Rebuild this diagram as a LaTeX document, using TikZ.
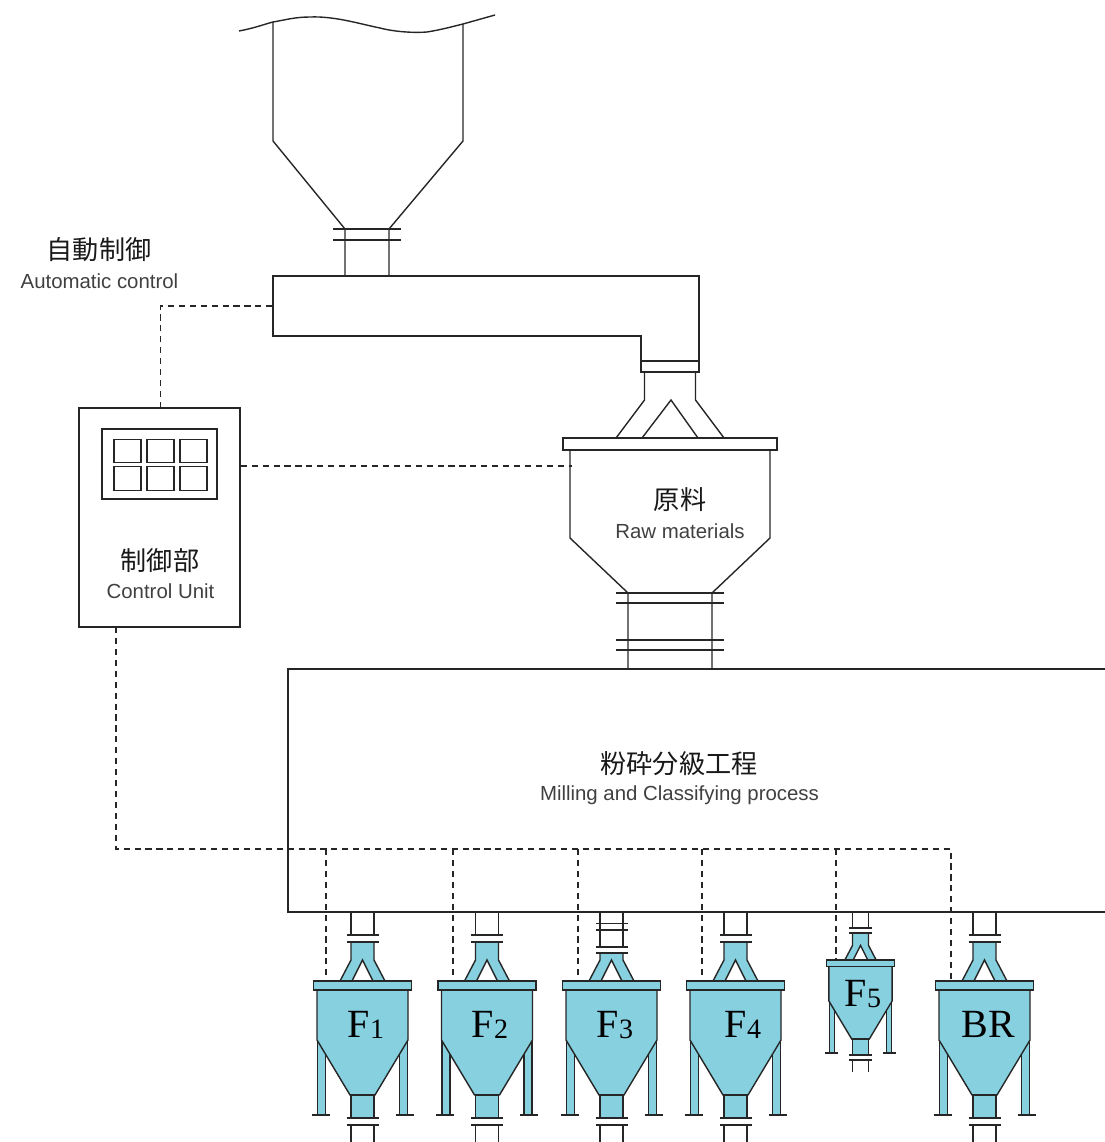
\documentclass[tikz,border=0pt]{standalone}
\usepackage{fontspec}
\setmainfont{Liberation Sans}
\newfontfamily\cjk{Noto Sans CJK JP}
\newfontfamily\serifl{Liberation Serif}
\definecolor{binblue}{HTML}{86D0DF}
\definecolor{engtext}{HTML}{404040}
\tikzset{
  x=0.75pt,y=-0.75pt,
  every path/.append style={line width=1.05pt,line join=miter},
  pipeline/.style={draw=black!85},
  binpart/.style={draw=black!85,fill=binblue},
  ctrlline/.style={draw=black!85,dash pattern=on 4.6pt off 3.6pt},
  jp/.style={font=\cjk\fontsize{19.6pt}{21pt}\selectfont,text=black!90,inner sep=0pt},
  en/.style={font=\fontsize{15.3pt}{17pt}\selectfont,text=engtext,inner sep=0pt},
  binlabel/.style={font=\serifl\fontsize{30pt}{32pt}\selectfont,text=black,anchor=base,inner sep=0pt},
  panelbox/.style={draw=black!85,minimum width=20.25pt,minimum height=17.6pt,inner sep=0pt},
}
\newcommand{\sbs}[1]{\raisebox{-1pt}{\fontsize{21pt}{22pt}\selectfont #1}}
% #1 centre x, #2 scale, #3 bottom of upper stub, #4 top of blue neck, #5 flange lines
\newcommand{\binunit}[5]{%
\begin{scope}[shift={(#1,912)},scale=#2]
  \draw[pipeline] (-11.5,0) -- (-11.5,#3) (11.5,0) -- (11.5,#3);
  \draw[binpart] (-45,128) -- (-45,203) -- (-37,203) -- (-37,128) -- cycle;
  \draw[binpart] (45,128) -- (45,203) -- (37,203) -- (37,128) -- cycle;
  \draw[pipeline] (-51,203) -- (-33,203) (33,203) -- (51,203);
  \draw[binpart] (-11.5,#4) -- (-11.5,48) -- (-22.5,69) -- (-10.5,69) -- (0,48) -- (10.5,69) -- (22.5,69) -- (11.5,48) -- (11.5,#4) -- cycle;
  \draw[binpart] (-45.5,78) -- (-45.5,128) -- (-12.5,183) -- (12.5,183) -- (45.5,128) -- (45.5,78) -- cycle;
  \draw[binpart] (-49,69) rectangle (49,78);
  \draw[binpart] (-11.5,183) rectangle (11.5,206);
  \draw[pipeline] (-11.5,213) -- (-11.5,230) (11.5,213) -- (11.5,230);
  \draw[pipeline] (-16,206) -- (16,206) (-16,213) -- (16,213);
  \foreach \fy in {#5} {\draw[pipeline] (-16,\fy) -- (16,\fy);}
\end{scope}}
\begin{document}
\begin{tikzpicture}
\useasboundingbox (0,0) rectangle (1104,1142);
% storage silo
\draw[pipeline] (239,31) .. controls (255,28) and (265,24) .. (273,22) .. controls (285,20) and (295,17) .. (310,17) .. controls (335,16) and (360,24) .. (380,28) .. controls (395,32) and (415,33) .. (427,32) .. controls (440,30) and (455,26) .. (463,24) -- (495,15);
\draw[pipeline] (273,22) -- (273,141) -- (345,229) -- (345,276);
\draw[pipeline] (463,24) -- (463,141) -- (389,229) -- (389,276);
\draw[pipeline] (333,229) -- (401,229) (333,240) -- (401,240);
% duct
\draw[pipeline] (273,276) -- (699,276) -- (699,372) -- (641,372) -- (641,336) -- (273,336) -- cycle;
\draw[pipeline] (641,361) -- (699,361);
% raw materials hopper
\draw[pipeline] (644.5,372) -- (644.5,400) -- (616,438);
\draw[pipeline] (695.5,372) -- (695.5,400) -- (724,438);
\draw[pipeline] (642,438) -- (671,400) -- (698,438);
\draw[pipeline] (563,438) rectangle (777,450);
\draw[pipeline] (570,450) -- (570,538) -- (628,593) -- (628,669);
\draw[pipeline] (770,450) -- (770,538) -- (712,593) -- (712,669);
\foreach \fy in {593,603,640,650} {\draw[pipeline] (616,\fy) -- (724,\fy);}
% milling process box (open on the right)
\draw[pipeline] (1106,669) -- (288,669) -- (288,912) -- (1106,912);
% control unit
\node[pipeline,draw,minimum width=120.75pt,minimum height=164.25pt,inner sep=0pt] (ctrl) at (159.5,517.5) {};
\draw[pipeline] (102,429) rectangle (217,499);
\node[panelbox] (p1) at (127.5,451) {};
\node[panelbox] (p2) at (160.5,451) {};
\node[panelbox] (p3) at (193.5,451) {};
\node[panelbox] (p4) at (127.5,478.5) {};
\node[panelbox] (p5) at (160.5,478.5) {};
\node[panelbox] (p6) at (193.5,478.5) {};
% bins
\binunit{362.5}{1}{23}{30}{23,30}
\binunit{487}{1}{23}{30}{23,30}
\binunit{611.5}{1}{35}{41}{11.5,18,35,41}
\binunit{735.5}{1}{23}{30}{23,30}
\binunit{860.5}{0.695}{23}{30}{23,30}
\binunit{984.5}{1}{23}{30}{23,30}
% dashed control lines
\coordinate (ductin) at (273,306);
\coordinate (rawin) at (572,466);
\coordinate (cutop) at (160.5,408);
\coordinate (cuout) at (116,627);
\coordinate (busend) at (951,849);
\coordinate (t1) at (326,981);
\coordinate (t2) at (453,981);
\coordinate (t3) at (578,981);
\coordinate (t4) at (702,981);
\coordinate (t5) at (836,960);
\draw[ctrlline] (cutop) |- (ductin);
\draw[ctrlline] (ctrl.east |- rawin) -- (rawin);
\draw[ctrlline] (cuout) |- (busend) -- (951,981);
\foreach \tt in {t1,t2,t3,t4,t5} {\draw[ctrlline] (\tt |- busend) -- (\tt);}
% labels
\node[jp] (autoJ) at (99,250) {自動制御};
\node[en] (autoE) at (99.5,281) {Automatic control};
\node[jp] (rawJ) at (680,500) {原料};
\node[en] (rawE) at (680,531) {Raw materials};
\node[jp] (cuJ) at (160,561) {制御部};
\node[en] (cuE) at (160.5,591) {Control Unit};
\node[jp] (milJ) at (679,764) {粉砕分級工程};
\node[en] (milE) at (679.5,795.5) {Milling and Classifying process};
\node[binlabel] (f1) at (366,1037) {F\sbs{1}};
\node[binlabel] (f2) at (490,1037) {F\sbs{2}};
\node[binlabel] (f3) at (615,1037) {F\sbs{3}};
\node[binlabel] (f4) at (743,1037) {F\sbs{4}};
\node[binlabel] (f5) at (863,1006) {F\sbs{5}};
\node[binlabel] (br) at (988.5,1037) {BR};
\end{tikzpicture}
\end{document}
